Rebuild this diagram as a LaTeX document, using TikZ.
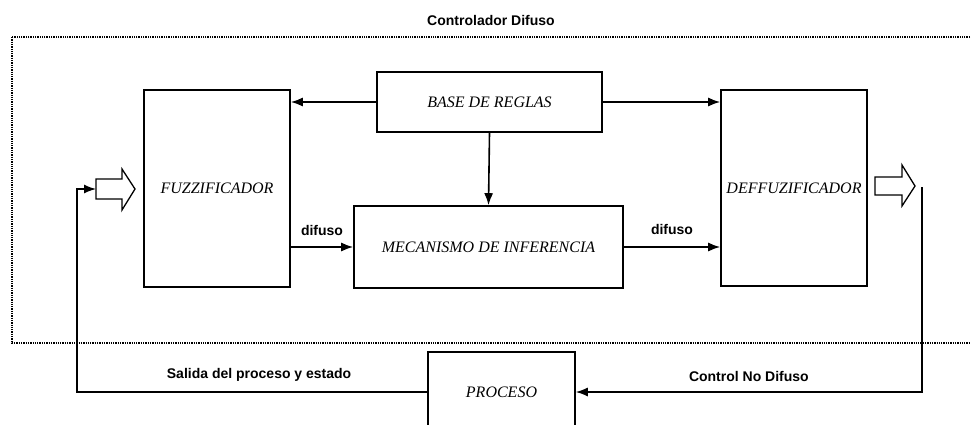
\documentclass[tikz,border=0pt]{standalone}
\usepackage{fontspec}
\setmainfont{Liberation Sans}
\newfontfamily\cajafont{Liberation Serif}
\usetikzlibrary{arrows.meta}

\tikzstyle{bloque}=[rectangle,draw,line width=1.6pt,inner sep=0pt,font=\cajafont\itshape\fontsize{16}{18}\selectfont]
\tikzstyle{etiqueta}=[font=\bfseries\fontsize{14}{16}\selectfont,inner sep=2pt]
\tikzstyle{hueco}=[draw,line width=1.3pt,fill=white]

\begin{document}
\begin{tikzpicture}[x=1pt,y=-1pt,>={Latex[length=12pt,width=9pt]}]
  \useasboundingbox (0,0) rectangle (971,424);
  \clip (0,0) rectangle (971,424);
  % marco del controlador
  \draw[line width=1.3pt,densely dotted] (12,37) rectangle (990,343);
  \node (titulo) [etiqueta] at (491,20) {Controlador Difuso};

  % bloques
  \node (fuzz) [bloque,minimum width=146,minimum height=197] at (217,188.5) {FUZZIFICADOR};
  \node (base) [bloque,minimum width=225,minimum height=60] at (489.5,102) {BASE DE REGLAS};
  \node (mec) [bloque,minimum width=269,minimum height=82] at (488.5,247) {MECANISMO DE INFERENCIA};
  \node (deff) [bloque,minimum width=146,minimum height=196] at (794,188) {DEFFUZIFICADOR};
  \node (proceso) [bloque,minimum width=147,minimum height=80] at (501.5,392) {PROCESO};

  % flechas huecas de entrada y salida
  \coordinate (entrada) at (96,189);
  \coordinate (salida) at (875,186);
  \draw[hueco] (entrada) ++(0,-10) -- ++(26,0) -- ++(0,-10) -- ++(13,20)
    -- ++(-13,21) -- ++(0,-11) -- ++(-26,0) -- cycle;
  \draw[hueco] (salida) ++(0,-9) -- ++(27,0) -- ++(0,-12) -- ++(13,21)
    -- ++(-13,20) -- ++(0,-11) -- ++(-27,0) -- cycle;

  \path[->,line width=1.6pt]
  (base.west) edge (base.west -| fuzz.east)
  (base.east) edge (base.east -| deff.west)
  (base.south) edge (mec.north)
  (mec.west -| fuzz.east) edge node[etiqueta,above=9pt] {difuso} (mec.west)
  (mec.east) edge node[etiqueta,above=10pt] {difuso} (mec.east -| deff.west);

  % lazo de realimentacion
  \coordinate (bajada) at (922,187);
  \coordinate (codo) at (77,189);
  \draw[->,line width=1.3pt] (bajada) |- node[etiqueta,pos=0.75,above=8pt] {Control No Difuso} (proceso.east);
  \draw[->,line width=1.3pt] (proceso.west) -| node[etiqueta,pos=0.24,above=8pt] {Salida del proceso y estado} (codo) -- (entrada);
\end{tikzpicture}
\end{document}
